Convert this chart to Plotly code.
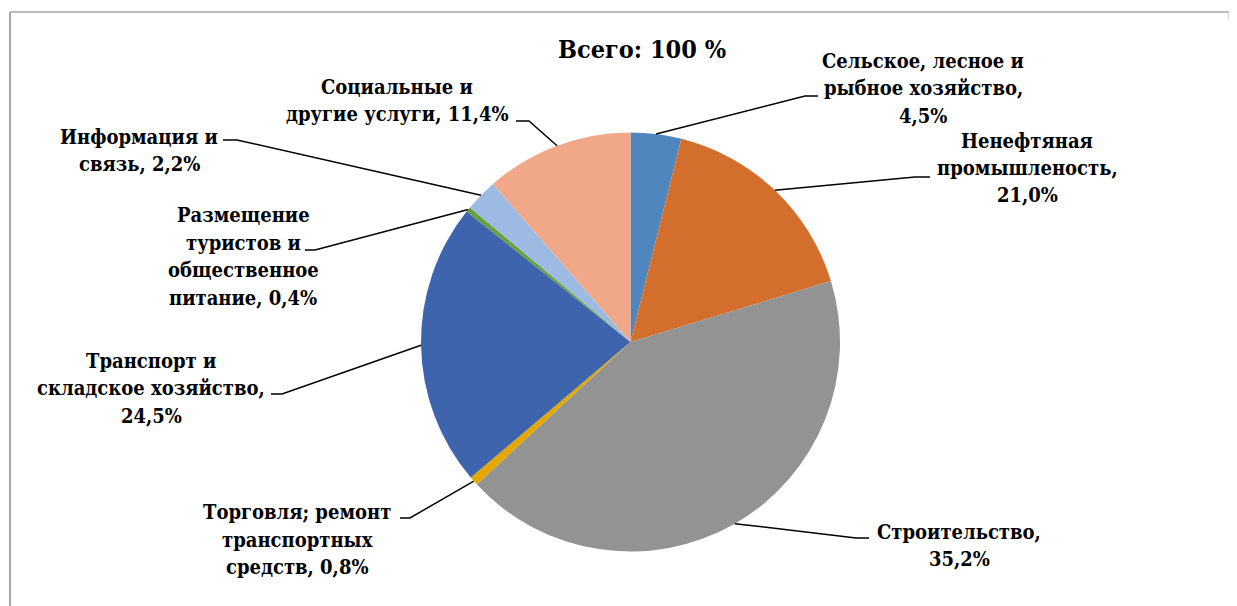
import math
import plotly.graph_objects as go

# ---------------- data ----------------
categories = [
    "Сельское, лесное и<br>рыбное хозяйство",
    "Ненефтяная<br>промышленость",
    "Строительство",
    "Торговля; ремонт<br>транспортных<br>средств",
    "Транспорт и<br>складское хозяйство",
    "Размещение<br>туристов и<br>общественное<br>питание",
    "Информация и<br>связь",
    "Социальные и<br>другие услуги",
]
label_pct = [4.5, 21.0, 35.2, 0.8, 24.5, 0.4, 2.2, 11.4]
# slice sizes as drawn in the picture (shares, %)
slice_share = [3.9, 16.4, 42.8, 0.7, 21.9, 0.4, 2.5, 11.4]
title_text = "Всего: 100 %"

# ---------------- style / layout ----------------
OFF = 8                       # default page body margin in the browser
W, H = 1237 - OFF, 606 - OFF
colors = ["#4F86BE", "#D46E2C", "#939393", "#E3A800",
          "#3D64AD", "#67A03F", "#9DBBE2", "#F1A888"]
separators = [",<br>", ",<br>", ",<br>", ", ", ",<br>", ", ", ", ", ", "]
FONT = "DejaVu Serif Condensed, DejaVu Serif, serif"
FS = 20
LS = 27.5                     # line spacing of label text (px)

cx, cy, R = 630.5, 342.0, 209.5          # pie centre / radius in page pixels
# label block centres (px) and leader elbow / end points (px)
label_pos = [(923, 88), (1027, 168), (959, 545.5), (297, 539.5),
             (151, 388), (243, 256.5), (139, 150.5), (397, 100.5)]
elbows = [((805, 96), (818, 96)), ((915, 177), (930, 177)),
          ((856, 538), (869, 538)), ((410, 518), (400, 518)),
          ((282, 394), (271, 394)), ((315, 250), (305, 250)),
          ((237, 140), (223, 140)), ((529, 121), (516, 121))]


def px(x):
    return (x - OFF) / W


def py(y):
    return 1 - (y - OFF) / H


fig = go.Figure()
fig.add_trace(go.Pie(
    labels=[c.replace("<br>", " ") for c in categories],
    values=slice_share,
    sort=False,
    direction="clockwise",
    rotation=0,
    marker=dict(colors=colors, line=dict(width=0)),
    textinfo="none",
    hovertext=[f"{p:.1f}%".replace(".", ",") for p in label_pct],
    hoverinfo="label+text",
    showlegend=False,
    domain=dict(x=[px(cx - R), px(cx + R)], y=[py(cy + R), py(cy - R)]),
))

shapes = []
annotations = []
total = sum(slice_share)
cum = 0.0
for i, v in enumerate(slice_share):
    theta = 2 * math.pi * (cum + v / 2) / total
    cum += v
    sx = cx + R * math.sin(theta)
    sy = cy - R * math.cos(theta)
    (ex, ey), (tx, ty) = elbows[i]
    shapes.append(dict(
        type="path", xref="paper", yref="paper",
        path=f"M {px(sx)},{py(sy)} L {px(ex)},{py(ey)} L {px(tx)},{py(ty)}",
        line=dict(color="black", width=1.5),
    ))
    txt = categories[i] + separators[i] + f"{label_pct[i]:.1f}%".replace(".", ",")
    lines = txt.split("<br>")
    n = len(lines)
    lx, ly = label_pos[i]
    for k, line in enumerate(lines):
        yy = ly + (k - (n - 1) / 2) * LS
        annotations.append(dict(
            text=f"<b>{line}</b>", x=px(lx), y=py(yy), xref="paper", yref="paper",
            xanchor="center", yanchor="middle", align="center", showarrow=False,
            font=dict(family=FONT, size=FS, color="black"),
        ))

annotations.append(dict(
    text=f"<b>{title_text}</b>", x=px(642), y=py(50), xref="paper", yref="paper",
    xanchor="center", yanchor="middle", showarrow=False,
    font=dict(family=FONT, size=25, color="black"),
))

# chart frame (top and left edges visible)
frame_col = "#A6A6A6"
shapes.append(dict(type="line", xref="paper", yref="paper",
                   x0=px(10), y0=py(12), x1=px(1229), y1=py(12),
                   line=dict(color=frame_col, width=1.5)))
shapes.append(dict(type="line", xref="paper", yref="paper",
                   x0=px(10), y0=py(12), x1=px(10), y1=py(606),
                   line=dict(color=frame_col, width=2)))
shapes.append(dict(type="line", xref="paper", yref="paper",
                   x0=px(1229), y0=py(12), x1=px(1229), y1=py(20),
                   line=dict(color=frame_col, width=1)))

fig.update_layout(
    width=W, height=H,
    margin=dict(l=0, r=0, t=0, b=0),
    paper_bgcolor="white", plot_bgcolor="white",
    font=dict(family=FONT),
    shapes=shapes, annotations=annotations,
)

fig.write_html("out.html")
